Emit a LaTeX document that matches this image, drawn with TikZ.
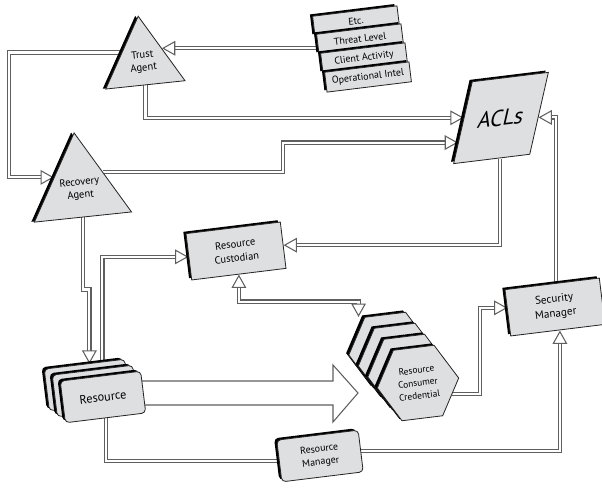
\documentclass[tikz,border=0pt]{standalone}
\usepackage{fontspec}
\setmainfont{PT Sans}
\usetikzlibrary{shapes.geometric,shadows,arrows.meta,calc,backgrounds}

\definecolor{facegray}{RGB}{222,223,225}
\definecolor{linegray}{RGB}{95,95,95}

\tikzset{
  extrude/.style={general shadow={shadow xshift=-0.8mm, shadow yshift=0.55mm, fill=black}},
  box/.style={draw=black!85, line width=0.7pt, fill=facegray, rotate=7, inner sep=1pt,
    align=center, extrude},
  agent/.style={regular polygon, regular polygon sides=3, minimum size=27.6mm, draw=black!85,
    line width=0.7pt, fill=facegray, inner sep=0pt, rotate=6, align=center,
    font=\fontsize{9}{11}\selectfont,
    general shadow={shadow xshift=-0.9mm, shadow yshift=0.1mm, fill=black}},
  infobox/.style={box, minimum width=25.5mm, minimum height=6mm, font=\fontsize{8.5}{9}\selectfont},
  resbox/.style={box, rounded corners=1.2mm, minimum width=24.3mm, minimum height=12.6mm},
  hexa/.style={regular polygon, regular polygon sides=6, minimum size=24.6mm, draw=black!85,
    line width=0.7pt, fill=facegray, rotate=7, inner sep=0pt, align=center, extrude,
    font=\fontsize{8}{11}\selectfont},
  link/.style={draw=linegray, line width=0.9pt, double=white, double distance=1.8pt},
  conn/.style={link, -{Triangle[open, length=4mm, width=4.4mm]}},
  dconn/.style={link, {Triangle[open, length=4mm, width=4.4mm]}-{Triangle[open, length=4mm, width=4.4mm]}},
  bigarrow/.style={draw=linegray, line width=0.9pt, fill=white, line join=miter},
}

\begin{document}
\begin{tikzpicture}[x=0.3mm, y=0.3mm]
    \useasboundingbox (0,0) rectangle (602,-487);

    % --- agents ---
    \node[agent] (trust) at (143,-62) {Trust\\Agent};
    \node[agent] (recov) at (80,-189) {Recovery\\Agent};

    % --- intel stack ---
    \node[infobox] (etc) at (356,-21) {Etc.};
    \node[infobox] (thr) at (360,-39) {Threat Level};
    \node[infobox] (clt) at (364,-58) {Client Activity};
    \node[infobox] (opi) at (368,-77) {Operational Intel};

    % --- ACLs ---
    \node[box, xslant=0.36, minimum width=23mm, minimum height=23.7mm, inner sep=0pt,
      font=\fontsize{19}{20}\selectfont] (acl) at (501,-118) {ACLs};

    % --- custodian / managers ---
    \node[box, minimum width=28.5mm, minimum height=14mm, font=\fontsize{9}{12}\selectfont]
      (cust) at (236,-251) {Resource\\Custodian};
    \node[box, minimum width=28.5mm, minimum height=14mm, font=\fontsize{9.5}{12.5}\selectfont]
      (secm) at (555,-307) {Security\\Manager};
    \node[box, rounded corners=1.2mm, minimum width=24.6mm, minimum height=12.6mm,
      font=\fontsize{8.5}{11}\selectfont] (resm) at (320,-456) {Resource\\Manager};

    % --- resource stack ---
    \node[resbox] (resC) at (87,-385) {};
    \node[resbox] (resB) at (95,-391) {};
    \node[resbox, font=\fontsize{10.5}{12}\selectfont] (res) at (103,-397) {Resource};

    % --- consumer stack ---
    \node[hexa] (cons4) at (389.5,-350) {};
    \node[hexa] (cons3) at (399,-361) {};
    \node[hexa] (cons2) at (408.5,-372) {};
    \node[hexa] (cons) at (418,-383) {Resource\\Consumer\\Credential};

    \coordinate (bigtip) at (358,-393);
    \coordinate (loopL) at (9,-120);

    \begin{scope}[on background layer]
    \draw[conn] (clt.west |- trust.side 3) -- (trust.side 3);
    \draw[conn] (trust.side 1) -| (loopL) |- (recov.side 1);
    \draw[conn] (trust.south) |- ($(acl.north west)!0.44!(acl.south west)$);
    \draw[conn] (recov.side 3) -| (283,-160) |- ($(acl.north west)!0.74!(acl.south west)$);
    \draw[conn] (recov.south) -- ++(0,-72) -| ($(resC.north)+(5,0)$);
    \draw[conn] ($(resC.north)+(18,-1)$) |- (cust.west);
    \draw[conn] ($(acl.south)+(8,0)$) |- (cust.east);
    \draw[dconn] (cust.south) -- ++(0,-27) -| ($(cons4.120)+(-6,0)$);
    \draw[link] (res.south) |- (resm.west);
    \draw[conn] (resm.east) -| ($(secm.south)+(2,0)$);
    \draw[conn] (cons.-25) -- ++(28,0) |- ($(secm.west)+(0,5)$);
    \draw[conn] ($(secm.north)+(4,0)$) |- ($(acl.north east)!0.55!(acl.south east)$);

    % fat arrow, resource to consumers
    \draw[bigarrow] ($(res.east |- bigtip)+(-3,12)$) -- ($(bigtip)+(-25,12)$)
      -- ($(bigtip)+(-25,28)$) -- (bigtip) -- ($(bigtip)+(-25,-29)$)
      -- ($(bigtip)+(-25,-12)$) -- ($(res.east |- bigtip)+(-3,-12)$);
    \end{scope}
\end{tikzpicture}
\end{document}
